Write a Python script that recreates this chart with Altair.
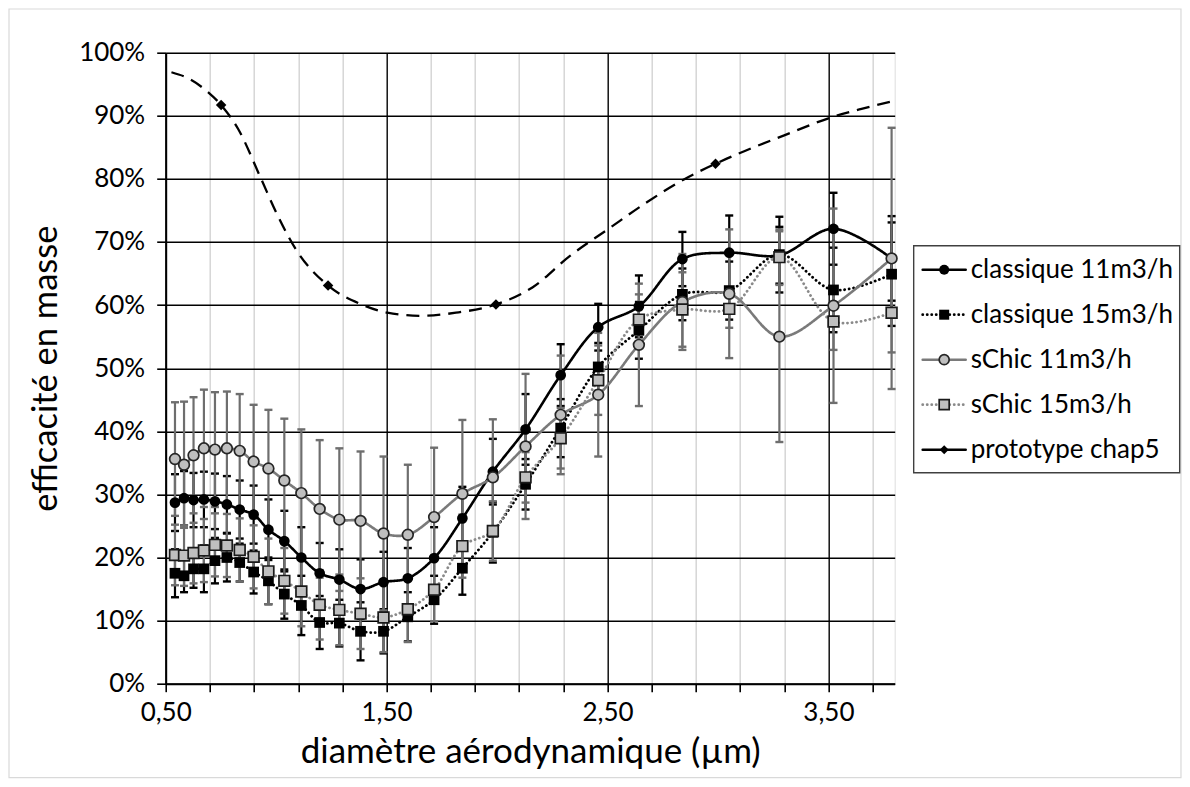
import altair as alt
import pandas as pd

# ---------------- data ----------------
x_um = [0.542, 0.583, 0.626, 0.673, 0.723, 0.777, 0.835, 0.898, 0.965, 1.037,
        1.114, 1.197, 1.286, 1.382, 1.486, 1.596, 1.715, 1.843, 1.981, 2.129,
        2.288, 2.458, 2.642, 2.839, 3.051, 3.278, 3.523, 3.786]

classique_11 = [28.7, 29.4, 29.1, 29.2, 28.9, 28.4, 27.6, 26.8, 24.4, 22.6,
                20.0, 17.5, 16.5, 15.0, 16.1, 16.7, 19.9, 26.2, 33.6, 40.3,
                48.9, 56.5, 59.8, 67.3, 68.3, 67.9, 72.1, 67.4]
classique_11_err = [4.5, 4.3, 4.3, 4.4, 4.4, 4.5, 4.6, 4.6, 4.8, 4.8,
                    4.8, 4.8, 4.8, 4.7, 4.8, 4.8, 4.9, 5.0, 5.2, 5.6,
                    4.9, 3.7, 4.9, 4.3, 5.9, 4.5, 5.7, 6.7]

classique_15 = [17.5, 17.1, 18.2, 18.2, 19.5, 20.0, 19.2, 17.7, 16.3, 14.2,
                12.4, 9.7, 9.6, 8.3, 8.3, 10.6, 13.3, 18.3, 24.0, 31.6,
                40.5, 50.2, 56.0, 61.7, 62.3, 68.0, 62.4, 64.9]
classique_15_err = [3.8, 2.6, 3.0, 3.7, 3.6, 3.8, 3.0, 3.4, 3.7, 3.9,
                    4.7, 4.2, 3.7, 4.6, 3.5, 3.9, 3.8, 4.2, 4.8, 4.0,
                    4.6, 3.8, 4.5, 4.1, 4.6, 6.0, 6.7, 8.2]

schic_11 = [35.6, 34.7, 36.2, 37.3, 37.1, 37.3, 36.9, 35.2, 34.1, 32.2,
            30.2, 27.7, 26.0, 25.8, 23.8, 23.6, 26.4, 30.1, 32.7, 37.6,
            42.6, 45.8, 53.7, 60.5, 61.8, 55.0, 59.9, 67.4]
schic_11_err = [9.0, 10.0, 9.2, 9.3, 9.1, 9.0, 9.0, 9.0, 9.3, 9.8,
                10.1, 10.9, 11.3, 11.0, 12.2, 11.1, 11.0, 11.7, 9.2, 11.5,
                9.4, 9.8, 9.7, 7.6, 10.2, 16.7, 15.4, 20.7]

schic_15 = [20.4, 20.3, 20.7, 21.1, 22.0, 21.9, 21.2, 20.1, 17.8, 16.3,
            14.6, 12.5, 11.7, 11.1, 10.5, 11.8, 14.9, 21.8, 24.2, 32.7,
            38.9, 48.1, 57.7, 59.3, 59.4, 67.6, 57.4, 58.8]
schic_15_err = [4.8, 4.8, 4.8, 5.0, 5.0, 5.0, 5.0, 5.0, 5.2, 5.2,
                5.5, 5.5, 5.6, 5.6, 5.5, 5.2, 5.0, 5.0, 4.7, 4.0,
                4.8, 5.5, 4.0, 5.9, 3.0, 4.4, 4.5, 6.3]

proto_curve_x = [0.526, 0.604, 0.69, 0.751, 0.828, 0.932, 1.0, 1.088, 1.235, 1.38,
                 1.503, 1.658, 1.814, 1.995, 2.16, 2.33, 2.505, 2.678, 2.85, 2.989,
                 3.127, 3.3, 3.5, 3.65, 3.8]
proto_curve_y = [96.9, 95.9, 93.8, 91.7, 87.9, 80.0, 74.7, 68.9, 63.1, 60.2,
                 58.8, 58.3, 58.8, 60.1, 62.8, 67.8, 72.1, 76.3, 80.0, 82.4,
                 84.5, 86.9, 89.6, 91.1, 92.4]
proto_pts_x = [0.751, 1.235, 1.995, 2.989]
proto_pts_y = [91.7, 63.1, 60.1, 82.4]

series_names = ["classique 11m3/h", "classique 15m3/h", "sChic 11m3/h",
                "sChic 15m3/h", "prototype chap5"]
x_tick_values = [0.5, 0.7, 0.9, 1.1, 1.3, 1.5, 1.7, 1.9, 2.1, 2.3, 2.5,
                 2.7, 2.9, 3.1, 3.3, 3.5, 3.7]
y_tick_values = [0, 10, 20, 30, 40, 50, 60, 70, 80, 90, 100]

# ---------------- styles ----------------
FONT = "Lato"
W, H = 729, 631
GREY_LINE = "#7a7a7a"
GREY_FILL = "#bfbfbf"
ERR_GREY = "#6e6e6e"
DOT = [0.1, 4.4]

styles = {
    "classique 11m3/h": dict(line="#000000", dash=[1, 0], shape="circle", fill="#000000",
                             stroke="#000000", sw=0, err="#000000", lw=2.6),
    "classique 15m3/h": dict(line="#000000", dash=DOT, shape="square", fill="#000000",
                             stroke="#000000", sw=0, err="#000000", lw=2.8),
    "sChic 11m3/h": dict(line=GREY_LINE, dash=[1, 0], shape="circle", fill=GREY_FILL,
                         stroke="#262626", sw=1.7, err=ERR_GREY, lw=2.6),
    "sChic 15m3/h": dict(line="#8a8a8a", dash=DOT, shape="square", fill=GREY_FILL,
                         stroke="#1a1a1a", sw=1.7, err=ERR_GREY, lw=2.8),
}

def series_df(name, vals, errs):
    d = pd.DataFrame({"x": x_um, "y": vals, "e": errs})
    d["lo"] = d["y"] - d["e"]
    d["hi"] = d["y"] + d["e"]
    d["series"] = name
    return d

frames = {
    series_names[0]: series_df(series_names[0], classique_11, classique_11_err),
    series_names[1]: series_df(series_names[1], classique_15, classique_15_err),
    series_names[2]: series_df(series_names[2], schic_11, schic_11_err),
    series_names[3]: series_df(series_names[3], schic_15, schic_15_err),
}
proto_curve = pd.DataFrame({"x": proto_curve_x, "y": proto_curve_y})
proto_pts = pd.DataFrame({"x": proto_pts_x, "y": proto_pts_y})

# ---------------- scales / axes ----------------
major = "round(datum.value * 10) % 10 == 5"
xscale = alt.Scale(domain=[0.5, 3.8], nice=False, zero=False)
yscale = alt.Scale(domain=[0, 100], nice=False, zero=True)

xaxis = alt.Axis(
    values=x_tick_values,
    labelExpr=f"{major} ? replace(format(datum.value, '.2f'), '.', ',') : ''",
    grid=True,
    gridColor={"condition": {"test": major, "value": "#000000"}, "value": "#d3d3d3"},
    gridWidth=1.4,
    domainColor="#000000", domainWidth=2,
    tickColor="#000000", tickWidth=1.6, tickSize=8,
    labelFont=FONT, labelFontSize=26, labelColor="#000000", labelPadding=8,
    labelFlush=False, labelOverlap=False,
    title="diamètre aérodynamique (µm)",
    titleFont=FONT, titleFontSize=35, titleFontWeight="normal", titleColor="#000000",
    titleX=364.5, titleY=68, titleAlign="center", titleBaseline="middle",
)
yaxis = alt.Axis(
    values=y_tick_values,
    labelExpr="datum.value + '%'",
    grid=True, gridColor="#000000", gridWidth=1.4,
    domainColor="#000000", domainWidth=2,
    tickColor="#000000", tickWidth=1.6, tickSize=9,
    labelFont=FONT, labelFontSize=26, labelColor="#000000", labelPadding=12,
    labelOverlap=False,
    title="efficacité en masse",
    titleFont=FONT, titleFontSize=34.5, titleFontWeight="normal", titleColor="#000000",
    titleX=-119, titleY=315.5, titleAlign="center", titleBaseline="middle", titleAngle=270,
)

X = alt.X("x:Q", scale=xscale, axis=xaxis)
Y = alt.Y("y:Q", scale=yscale, axis=yaxis)

layers = []

# outer chart border (decoration)
layers.append(
    alt.Chart(pd.DataFrame({"k": [0]})).mark_rect(fill="white", fillOpacity=0, stroke="#d9d9d9",
                                                   strokeWidth=1.2)
    .encode(x=alt.value(-156.7), x2=alt.value(1015.3), y=alt.value(-43.7), y2=alt.value(725))
)

# error bars
for name in series_names[:4]:
    st = styles[name]
    d = frames[name]
    base = alt.Chart(d)
    layers.append(base.mark_rule(color=st["err"], strokeWidth=2.2)
                  .encode(x=X, y=alt.Y("lo:Q", scale=yscale, axis=yaxis), y2="hi:Q"))
    layers.append(base.mark_tick(orient="horizontal", color=st["err"], size=8, thickness=2.4, opacity=1)
                  .encode(x=X, y=alt.Y("lo:Q", scale=yscale, axis=yaxis)))
    layers.append(base.mark_tick(orient="horizontal", color=st["err"], size=8, thickness=2.4, opacity=1)
                  .encode(x=X, y=alt.Y("hi:Q", scale=yscale, axis=yaxis)))

# lines and markers
for name in series_names[:4]:
    st = styles[name]
    d = frames[name]
    layers.append(alt.Chart(d).mark_line(interpolate="catmull-rom", color=st["line"], strokeWidth=st["lw"],
                                         strokeDash=st["dash"], strokeCap="round")
                  .encode(x=X, y=Y))
for name in series_names[:4]:
    st = styles[name]
    d = frames[name]
    layers.append(alt.Chart(d).mark_point(filled=True, shape=st["shape"], size=115,
                                          fill=st["fill"], stroke=st["stroke"],
                                          strokeWidth=st["sw"], opacity=1, fillOpacity=1)
                  .encode(x=X, y=Y))

# prototype
layers.append(alt.Chart(proto_curve).mark_line(interpolate="monotone", color="#000000",
                                               strokeWidth=2.3, strokeDash=[13, 8])
              .encode(x=X, y=Y))
layers.append(alt.Chart(proto_pts).mark_point(filled=True, shape="diamond", size=110,
                                              color="#000000", opacity=1)
              .encode(x=X, y=Y))

# ---------------- legend (decoration) ----------------
LX0, LX1, LY0, LY1 = 748, 1014, 193, 420
layers.append(
    alt.Chart(pd.DataFrame({"k": [0]})).mark_rect(fill="white", stroke="#404040", strokeWidth=1.4)
    .encode(x=alt.value(LX0), x2=alt.value(LX1), y=alt.value(LY0), y2=alt.value(LY1))
)
leg_styles = dict(styles)
leg_styles["prototype chap5"] = dict(line="#000000", dash=[1, 0], shape="diamond", fill="#000000",
                                     stroke="#000000", sw=0, err="#000000", lw=2.6)
for i, name in enumerate(series_names):
    st = leg_styles[name]
    yy = 217 + 45 * i
    one = alt.Chart(pd.DataFrame({"series": [name]}))
    layers.append(one.mark_rule(color=st["line"], strokeWidth=st["lw"], strokeDash=st["dash"], strokeCap="round")
                  .encode(x=alt.value(757), x2=alt.value(800), y=alt.value(yy)))
    msize = 80 if name == "prototype chap5" else 100
    layers.append(one.mark_point(filled=True, shape=st["shape"], size=msize, fill=st["fill"],
                                 stroke=st["stroke"], strokeWidth=st["sw"], opacity=1)
                  .encode(x=alt.value(778.5), y=alt.value(yy)))
    layers.append(one.mark_text(align="left", baseline="middle", font=FONT, fontSize=26, color="#000000")
                  .encode(x=alt.value(805), y=alt.value(yy), text="series:N"))

chart = (
    alt.layer(*layers)
    .properties(width=W, height=H,
                autosize=alt.AutoSizeParams(type="none"),
                padding={"left": 157.7, "top": 44.7, "right": 287, "bottom": 95})
    .configure_view(stroke=None)
    .configure(font=FONT)
)

chart.save("out.html", embed_options={"renderer": "svg", "actions": False})
